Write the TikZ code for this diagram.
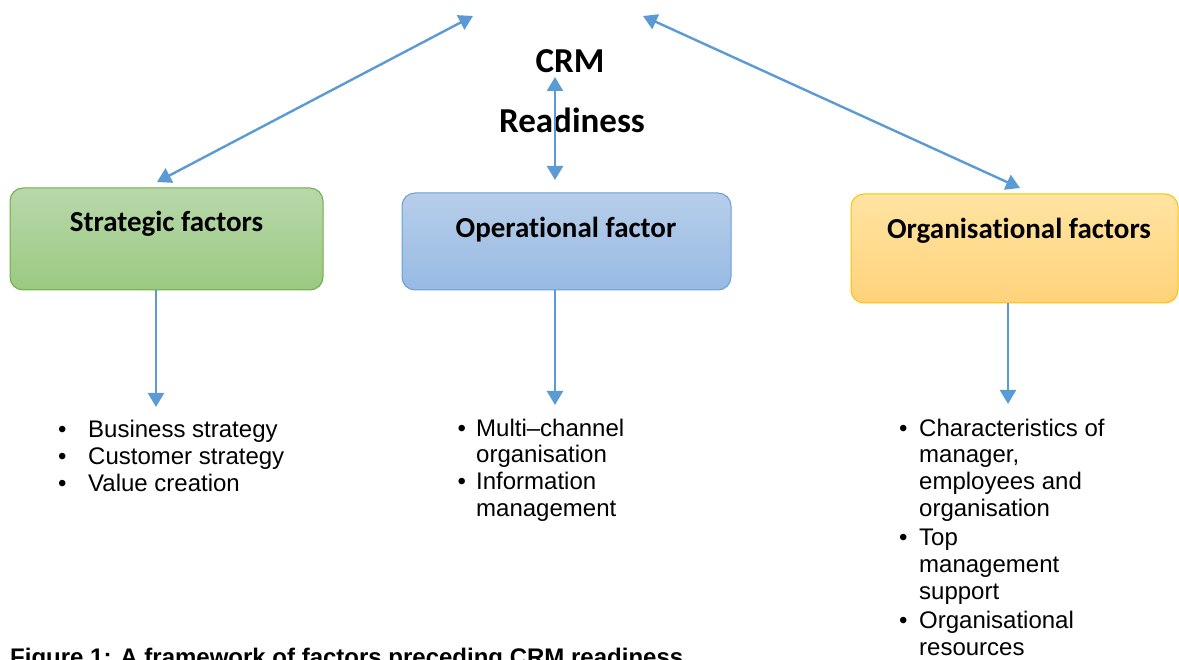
\documentclass[tikz,border=0pt]{standalone}
\usepackage{fontspec}
\setmainfont{Liberation Sans}
\newfontfamily\boxfont[Ligatures=NoCommon]{Carlito}
\usetikzlibrary{arrows.meta}

\definecolor{linkblue}{HTML}{5B9BD5}
\definecolor{greenTop}{HTML}{B8D8AA}
\definecolor{greenBot}{HTML}{9BC981}
\definecolor{greenEdge}{HTML}{71AD47}
\definecolor{blueTop}{HTML}{B7CEEA}
\definecolor{blueBot}{HTML}{97BAE3}
\definecolor{blueEdge}{HTML}{6A9FD6}
\definecolor{goldTop}{HTML}{FFE4A2}
\definecolor{goldBot}{HTML}{FFD27A}
\definecolor{goldEdge}{HTML}{FFC000}

\newcommand{\bulletitem}[1]{\makebox[#1][l]{\textbullet}}

\begin{document}
\begin{tikzpicture}[x=1pt,y=-1pt,
  factorbox/.style={rectangle, rounded corners=13pt, line width=1pt, inner sep=0pt},
  boxlabel/.style={anchor=base, inner sep=0pt, font=\boxfont\bfseries\fontsize{29}{34}\selectfont},
  titletext/.style={anchor=base, inner sep=0pt, font=\boxfont\bfseries\fontsize{35}{40}\selectfont},
  listtext/.style={anchor=base west, inner sep=0pt, font=\fontsize{24}{27}\selectfont},
  tiphead/.style={Triangle[length=14pt,width=16pt]},
  link/.style={draw=linkblue, line width=2.4pt, {Triangle[length=14pt,width=16pt]}-{Triangle[length=14pt,width=16pt]}},
  downlink/.style={draw=linkblue, line width=2.4pt, -{Triangle[length=14pt,width=16pt]}}
]
\useasboundingbox (0,0) rectangle (1179,660);
\clip (0,0) rectangle (1179,660);

% factor boxes
\node[factorbox, draw=greenEdge, top color=greenTop, bottom color=greenBot,
      minimum width=313pt, minimum height=102pt] (strat) at (166.5,239) {};
\node[factorbox, draw=blueEdge, top color=blueTop, bottom color=blueBot,
      minimum width=329pt, minimum height=97pt] (oper) at (566.5,241.5) {};
\node[factorbox, draw=goldEdge, top color=goldTop, bottom color=goldBot,
      minimum width=327pt, minimum height=109pt] (organ) at (1014.5,248.5) {};

\node[boxlabel] (stratlbl) at (166.5,232) {Strategic factors};
\node[boxlabel] (operlbl) at (566,238) {Operational factor};
\node[boxlabel] (organlbl) at (1019,238.5) {Organisational factors};

% central title
\node[titletext] (crm) at (570,73) {CRM};
\node[titletext] (ready) at (572,133) {Readiness};

% connector ends
\coordinate (leftTop) at (473,16);
\coordinate (leftEnd) at (157,182);
\coordinate (rightTop) at (643,16);
\coordinate (rightEnd) at (1020,188);
\coordinate (midTop) at (555,77);
\coordinate (midEnd) at (555,180);
\coordinate (stratOut) at (156,290);
\coordinate (stratIn) at (156,407);
\coordinate (operOut) at (555,290);
\coordinate (operIn) at (555,405);
\coordinate (organOut) at (1008,303);
\coordinate (organIn) at (1008,404);

\draw[link] (leftTop) -- (leftEnd);
\draw[link] (rightTop) -- (rightEnd);
\draw[link] (midTop) -- (midEnd);
\draw[downlink] (stratOut) -- (stratIn);
\draw[downlink] (operOut) -- (operIn);
\draw[downlink] (organOut) -- (organIn);

% item lists
\node[listtext] (stratlist) at (57.8,438) {\begin{tabular}[t]{@{}l@{}l@{}}
\bulletitem{30.2pt} & Business strategy\\
\bulletitem{30.2pt} & Customer strategy\\
\bulletitem{30.2pt} & Value creation
\end{tabular}};

\node[listtext] (operlist) at (457.5,436) {\begin{tabular}[t]{@{}l@{}l@{}}
\bulletitem{18.5pt} & Multi--channel\\
 & organisation\\
\bulletitem{18.5pt} & Information\\
 & management
\end{tabular}};

\node[listtext] (organlist) at (898.8,436) {\begin{tabular}[t]{@{}l@{}l@{}}
\bulletitem{20.2pt} & Characteristics of\\
 & manager,\\
 & employees and\\
 & organisation\\[2pt]
\bulletitem{20.2pt} & Top\\
 & management\\
 & support\\[2pt]
\bulletitem{20.2pt} & Organisational\\
 & resources
\end{tabular}};

% caption
\node[anchor=base west, inner sep=0pt, font=\bfseries\fontsize{24}{28}\selectfont] (caption) at (10,665)
  {Figure 1: A framework of factors preceding CRM readiness};
\end{tikzpicture}
\end{document}
